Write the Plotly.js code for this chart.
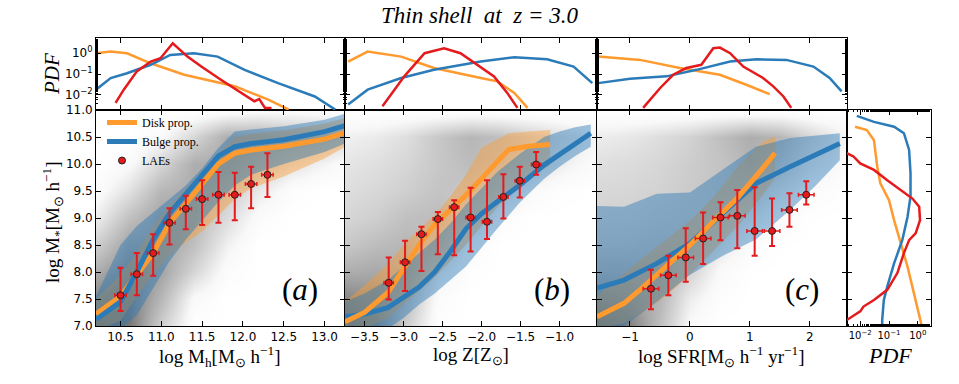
<!DOCTYPE html>
<html>
<head>
<meta charset="utf-8">
<script src="https://cdn.plot.ly/plotly-3.0.1.min.js"></script>
<style>
html, body { margin: 0; padding: 0; background: #fff; }
#chart { width: 959px; height: 384px; }
</style>
</head>
<body>
<div id="chart"></div>
<script>
// ---- panel (a): halo mass ----
const aLineX = [10.2, 10.5, 10.7, 10.9, 11.1, 11.3, 11.5, 11.7, 11.9, 12.1, 12.5, 13.0, 13.25];
const aDisk = [7.22, 7.55, 7.95, 8.35, 8.9, 9.27, 9.64, 10.0, 10.2, 10.26, 10.33, 10.46, 10.58];
const aDiskHi = [7.5, 7.95, 8.35, 8.85, 9.25, 9.55, 9.85, 10.2, 10.5, 10.56, 10.62, 10.75, 10.85];
const aDiskLo = [6.9, 7.1, 7.55, 7.95, 8.3, 8.55, 8.75, 9.05, 9.35, 9.55, 9.77, 10.1, 10.32];
const aBulge = [7.12, 7.45, 8.0, 8.6, 9.09, 9.45, 9.8, 10.15, 10.32, 10.38, 10.45, 10.6, 10.71];
const aBulgeHi = [7.55, 8.5, 8.85, 9.1, 9.35, 9.6, 9.92, 10.3, 10.6, 10.64, 10.7, 10.82, 10.93];
const aBulgeLo = [6.9, 6.95, 7.2, 7.7, 8.2, 8.6, 8.95, 9.3, 9.6, 9.8, 10.0, 10.22, 10.38];
const aLaeX = [10.5, 10.7, 10.9, 11.1, 11.3, 11.5, 11.7, 11.9, 12.1, 12.3];
const aLaeY = [7.57, 7.96, 8.35, 8.91, 9.17, 9.35, 9.43, 9.43, 9.63, 9.80];
const aLaeUp = [0.51, 0.39, 0.35, 0.27, 0.24, 0.35, 0.42, 0.41, 0.32, 0.40];
const aLaeDn = [0.29, 0.39, 0.42, 0.40, 0.38, 0.48, 0.52, 0.47, 0.45, 0.41];
const aLaeXErr = 0.07;

// ---- panel (b): metallicity ----
const bLineX = [-3.75, -3.5, -3.2, -3.0, -2.8, -2.6, -2.4, -2.2, -2.0, -1.8, -1.5, -1.2, -1.0, -0.8, -0.6];
const bBulge = [7.17, 7.22, 7.34, 7.52, 7.72, 8.0, 8.38, 8.8, 9.08, 9.3, 9.62, 9.98, 10.18, 10.38, 10.57];
const bBulgeHi = [7.45, 7.6, 7.85, 8.1, 8.35, 8.6, 8.9, 9.25, 9.55, 9.85, 10.2, 10.5, 10.6, 10.68, 10.73];
const bBulgeLo = [6.9, 6.9, 6.95, 7.15, 7.4, 7.6, 7.85, 8.1, 8.45, 8.8, 9.3, 9.72, 9.95, 10.15, 10.32];
const bDiskX = [-3.75, -3.5, -3.2, -3.0, -2.8, -2.6, -2.4, -2.2, -2.0, -1.8, -1.65, -1.4, -1.12];
const bDisk = [7.08, 7.25, 7.62, 8.05, 8.5, 8.88, 9.15, 9.42, 9.73, 10.05, 10.27, 10.33, 10.36];
const bDiskHi = [7.45, 7.75, 8.15, 8.5, 8.8, 9.05, 9.4, 9.8, 10.3, 10.45, 10.57, 10.6, 10.63];
const bDiskLo = [6.9, 6.95, 7.15, 7.4, 7.65, 7.9, 8.2, 8.5, 8.85, 9.2, 9.45, 9.72, 9.98];
const bLaeX = [-3.19, -2.98, -2.77, -2.56, -2.35, -2.14, -1.93, -1.72, -1.51, -1.30];
const bLaeY = [7.80, 8.18, 8.70, 8.98, 9.20, 9.01, 8.93, 9.39, 9.69, 9.99];
const bLaeUp = [0.47, 0.40, 0.14, 0.13, 0.13, 0.55, 0.77, 0.42, 0.26, 0.23];
const bLaeDn = [0.31, 0.53, 0.68, 0.65, 0.89, 0.63, 0.32, 0.40, 0.31, 0.19];
const bLaeXErr = 0.06;

// ---- panel (c): star formation rate ----
const cLineX = [-1.55, -1.1, -0.55, 0, 0.55, 1.1, 1.67, 2.1, 2.5];
const cBulge = [7.7, 7.85, 8.16, 8.53, 9.09, 9.64, 9.95, 10.18, 10.38];
const cBulgeHi = [9.22, 9.21, 9.45, 9.47, 9.9, 10.32, 10.48, 10.53, 10.57];
const cBulgeLo = [6.9, 7.0, 7.45, 7.95, 8.3, 8.6, 9.15, 9.6, 10.07];
const cDiskX = [-1.55, -1.1, -0.8, -0.4, 0, 0.4, 0.8, 1.2, 1.42];
const cDisk = [7.17, 7.42, 7.7, 8.1, 8.5, 8.95, 9.38, 9.9, 10.2];
const cDiskHi = [7.55, 7.98, 8.25, 8.6, 8.95, 9.4, 9.96, 10.4, 10.51];
const cDiskLo = [6.95, 7.05, 7.25, 7.55, 7.95, 8.4, 8.85, 9.4, 9.74];
const cLaeX = [-0.65, -0.36, -0.07, 0.22, 0.51, 0.79, 1.08, 1.37, 1.66, 1.94];
const cLaeY = [7.69, 7.94, 8.27, 8.62, 9.01, 9.04, 8.76, 8.76, 9.15, 9.43];
const cLaeUp = [0.35, 0.36, 0.54, 0.48, 0.28, 0.48, 0.81, 0.60, 0.31, 0.25];
const cLaeDn = [0.38, 0.37, 0.45, 0.47, 0.42, 0.60, 0.46, 0.28, 0.31, 0.18];
const cLaeXErr = 0.13;

// ---- gray density of all galaxies (rows from 7.0 up to 11.0) ----
const cloudY = [7.0, 7.5, 8.0, 8.5, 9.0, 9.5, 10.0, 10.5, 11.0];
const aCloudX = [10.2, 10.6, 11.0, 11.4, 11.8, 12.2, 12.6, 13.0, 13.3];
const aCloud = [
    [0.82, 0.75, 0.32, 0.02, 0, 0, 0, 0, 0],
    [0.68, 0.72, 0.45, 0.08, 0, 0, 0, 0, 0],
    [0.5, 0.65, 0.55, 0.28, 0.05, 0, 0, 0, 0],
    [0.32, 0.55, 0.55, 0.4, 0.14, 0, 0, 0, 0],
    [0.15, 0.4, 0.55, 0.45, 0.25, 0.06, 0, 0, 0],
    [0.05, 0.22, 0.45, 0.5, 0.35, 0.18, 0.04, 0, 0],
    [0, 0.08, 0.28, 0.5, 0.5, 0.35, 0.22, 0.12, 0.05],
    [0, 0, 0.08, 0.28, 0.5, 0.48, 0.4, 0.33, 0.25],
    [0, 0, 0, 0, 0.03, 0.06, 0.06, 0.06, 0.03]
];
const bCloudX = [-3.75, -3.35, -2.95, -2.55, -2.15, -1.75, -1.35, -0.95, -0.55];
const bCloud = [
    [0.82, 0.68, 0.32, 0.02, 0, 0, 0, 0, 0],
    [0.68, 0.62, 0.4, 0.05, 0, 0, 0, 0, 0],
    [0.5, 0.52, 0.48, 0.16, 0.02, 0, 0, 0, 0],
    [0.35, 0.42, 0.45, 0.35, 0.08, 0, 0, 0, 0],
    [0.28, 0.32, 0.4, 0.42, 0.28, 0.06, 0, 0, 0],
    [0.24, 0.27, 0.32, 0.38, 0.36, 0.25, 0.08, 0.02, 0],
    [0.2, 0.23, 0.28, 0.36, 0.42, 0.36, 0.27, 0.15, 0.06],
    [0.14, 0.17, 0.24, 0.36, 0.45, 0.4, 0.3, 0.22, 0.12],
    [0, 0, 0, 0, 0, 0, 0, 0, 0]
];
const cCloudX = [-1.55, -1.0, -0.5, 0, 0.5, 1.0, 1.5, 2.0, 2.6];
const cCloud = [
    [0.82, 0.7, 0.4, 0.08, 0, 0, 0, 0, 0],
    [0.65, 0.58, 0.45, 0.16, 0.03, 0, 0, 0, 0],
    [0.48, 0.48, 0.45, 0.3, 0.08, 0.01, 0, 0, 0],
    [0.36, 0.37, 0.4, 0.36, 0.2, 0.06, 0.01, 0, 0],
    [0.3, 0.31, 0.34, 0.36, 0.3, 0.18, 0.06, 0.01, 0],
    [0.27, 0.28, 0.3, 0.34, 0.38, 0.34, 0.18, 0.06, 0.01],
    [0.23, 0.25, 0.28, 0.33, 0.38, 0.45, 0.36, 0.18, 0.06],
    [0.16, 0.19, 0.24, 0.3, 0.4, 0.5, 0.45, 0.28, 0.12],
    [0, 0, 0, 0, 0, 0, 0, 0, 0]
];

// ---- PDFs on top (x = property, y = PDF) ----
const aPdfDiskX = [10.2, 10.38, 10.58, 10.87, 11.28, 11.9, 12.31, 12.56];
const aPdfDisk = [1.0, 1.2, 1.0, 0.33, 0.093, 0.026, 0.006, 0.002];
const aPdfBulgeX = [10.2, 10.38, 10.58, 10.87, 11.11, 11.4, 11.69, 12.02, 12.43, 12.88, 13.13];
const aPdfBulge = [0.018, 0.065, 0.11, 0.28, 0.83, 1.0, 0.69, 0.16, 0.037, 0.0085, 0.002];
const aPdfLaeX = [10.44, 10.54, 10.7, 10.87, 10.99, 11.14, 11.32, 11.49, 11.73, 11.98, 12.14, 12.2, 12.27, 12.35];
const aPdfLae = [0.0042, 0.018, 0.135, 0.4, 0.58, 3.0, 0.69, 0.23, 0.054, 0.0126, 0.005, 0.0063, 0.0024, 0.0024];

const bPdfDiskX = [-3.71, -3.46, -3.03, -2.61, -2.01, -1.8, -1.58, -1.41];
const bPdfDisk = [0.4, 1.2, 0.69, 0.195, 0.065, 0.045, 0.0126, 0.0024];
const bPdfBulgeX = [-3.71, -3.46, -3.03, -2.61, -2.01, -1.58, -1.16, -0.82, -0.58];
const bPdfBulge = [0.0035, 0.018, 0.065, 0.16, 0.4, 0.65, 0.51, 0.23, 0.037];
const bPdfLaeX = [-3.27, -2.99, -2.73, -2.48, -2.27, -2.05, -1.84, -1.67, -1.54];
const bPdfLae = [0.0029, 0.078, 1.0, 1.74, 1.0, 0.28, 0.078, 0.0126, 0.0024];

const cPdfDiskX = [-1.53, -0.83, -0.17, 0.5, 0.94, 1.33];
const cPdfDisk = [0.69, 0.48, 0.195, 0.093, 0.031, 0.011];
const cPdfBulgeX = [-1.53, -1.0, -0.39, 0.11, 0.67, 1.11, 1.61, 2.06, 2.33, 2.53];
const cPdfBulge = [0.037, 0.06, 0.078, 0.16, 0.4, 0.51, 0.48, 0.23, 0.065, 0.0148];
const cPdfLaeX = [-0.78, -0.5, -0.28, -0.06, 0.19, 0.39, 0.5, 0.67, 0.89, 1.22, 1.39, 1.56, 1.69];
const cPdfLae = [0.0024, 0.021, 0.093, 0.195, 0.28, 1.74, 1.86, 1.0, 0.23, 0.065, 0.026, 0.0085, 0.0024];

// ---- PDF of stellar mass on the right (y = mass, x = PDF) ----
const mPdfBulgeY = [10.89, 10.78, 10.69, 10.57, 10.26, 9.83, 9.4, 9.02, 8.59, 8.16, 7.73, 7.48, 7.11, 7.02];
const mPdfBulge = [0.0076, 0.03, 0.15, 0.33, 0.5, 0.56, 0.56, 0.44, 0.29, 0.15, 0.087, 0.066, 0.058, 0.058];
const mPdfDiskY = [10.69, 10.63, 10.44, 9.95, 9.64, 9.33, 8.96, 8.53, 8.1, 7.6, 7.11, 7.02];
const mPdfDisk = [0.0066, 0.017, 0.03, 0.039, 0.05, 0.1, 0.15, 0.25, 0.44, 0.74, 1.26, 1.35];
const mPdfLaeY = [10.2, 10.14, 10.01, 9.89, 9.7, 9.52, 9.36, 9.21, 8.96, 8.72, 8.59, 8.35, 7.98, 7.67, 7.48, 7.36, 7.27, 7.11];
const mPdfLae = [0.0034, 0.0058, 0.01, 0.03, 0.087, 0.25, 0.65, 1.12, 1.2, 0.85, 0.5, 0.33, 0.195, 0.087, 0.03, 0.013, 0.01, 0.0034];

const pdfTickVals = [0.01, 0.1, 1];
const pdfTickText = ['10<sup>\u22122</sup>', '10<sup>\u22121</sup>', '10<sup>0</sup>'];

// colours
const orange = '#ff9a2e';
const blue = '#2b7bb9';
const red = '#e41a1c';
const orangeFill = 'rgba(255,154,46,0.42)';
const blueFill = 'rgba(43,123,185,0.45)';
const serif = 'Liberation Serif, Times New Roman, serif';

// pixel helpers for the layout
const W = 959, H = 384;
function fx(px) { return px / W; }
function fy(py) { return 1 - py / H; }

function cloud(x, z, xa, ya) {
    return {
        type: 'heatmap', x: x, y: cloudY, z: z, xaxis: xa, yaxis: ya,
        zmin: 0, zmax: 1, zsmooth: 'best', showscale: false, showlegend: false,
        hoverinfo: 'skip',
        colorscale: [[0, '#ffffff'], [0.1, '#f8f8f8'], [0.3, '#d2d2d2'], [0.5, '#adadad'], [1, '#404040']]
    };
}

function band(x, lo, hi, color, xa, ya) {
    return {
        type: 'scatter', mode: 'lines',
        x: x.concat(x.slice().reverse()),
        y: hi.concat(lo.slice().reverse()),
        fill: 'toself', fillcolor: color, line: { width: 0, color: color },
        xaxis: xa, yaxis: ya, showlegend: false, hoverinfo: 'skip'
    };
}

function curve(x, y, color, width, xa, ya, name) {
    return {
        type: 'scatter', mode: 'lines', x: x, y: y, name: name || '',
        line: { color: color, width: width },
        xaxis: xa, yaxis: ya, showlegend: !!name, hoverinfo: 'skip'
    };
}

function laes(x, y, up, dn, xerr, xa, ya, legend) {
    return {
        type: 'scatter', mode: 'markers', x: x, y: y, name: 'LAEs',
        marker: { color: red, size: 7, line: { color: '#222', width: 1 } },
        error_y: { type: 'data', symmetric: false, array: up, arrayminus: dn, color: red, thickness: 2, width: 3 },
        error_x: { type: 'constant', value: xerr, color: red, thickness: 1.5, width: 2 },
        xaxis: xa, yaxis: ya, showlegend: legend, hoverinfo: 'skip'
    };
}

const traces = [
    // (a)
    cloud(aCloudX, aCloud, 'x', 'y'),
    band(aLineX, aDiskLo, aDiskHi, orangeFill, 'x', 'y'),
    band(aLineX, aBulgeLo, aBulgeHi, blueFill, 'x', 'y'),
    curve(aLineX, aDisk, orange, 5, 'x', 'y', 'Disk prop.'),
    curve(aLineX, aBulge, blue, 5, 'x', 'y', 'Bulge prop.'),
    laes(aLaeX, aLaeY, aLaeUp, aLaeDn, aLaeXErr, 'x', 'y', true),
    // (b)
    cloud(bCloudX, bCloud, 'x2', 'y2'),
    band(bDiskX, bDiskLo, bDiskHi, orangeFill, 'x2', 'y2'),
    band(bLineX, bBulgeLo, bBulgeHi, blueFill, 'x2', 'y2'),
    curve(bLineX, bBulge, blue, 5, 'x2', 'y2'),
    curve(bDiskX, bDisk, orange, 5, 'x2', 'y2'),
    laes(bLaeX, bLaeY, bLaeUp, bLaeDn, bLaeXErr, 'x2', 'y2', false),
    // (c)
    cloud(cCloudX, cCloud, 'x3', 'y3'),
    band(cDiskX, cDiskLo, cDiskHi, orangeFill, 'x3', 'y3'),
    band(cLineX, cBulgeLo, cBulgeHi, blueFill, 'x3', 'y3'),
    curve(cLineX, cBulge, blue, 5, 'x3', 'y3'),
    curve(cDiskX, cDisk, orange, 5, 'x3', 'y3'),
    laes(cLaeX, cLaeY, cLaeUp, cLaeDn, cLaeXErr, 'x3', 'y3', false),
    // top PDFs
    curve(aPdfDiskX, aPdfDisk, orange, 2.5, 'x4', 'y4'),
    curve(aPdfBulgeX, aPdfBulge, blue, 2.5, 'x4', 'y4'),
    curve(aPdfLaeX, aPdfLae, red, 2.5, 'x4', 'y4'),
    curve(bPdfDiskX, bPdfDisk, orange, 2.5, 'x5', 'y5'),
    curve(bPdfBulgeX, bPdfBulge, blue, 2.5, 'x5', 'y5'),
    curve(bPdfLaeX, bPdfLae, red, 2.5, 'x5', 'y5'),
    curve(cPdfDiskX, cPdfDisk, orange, 2.5, 'x6', 'y6'),
    curve(cPdfBulgeX, cPdfBulge, blue, 2.5, 'x6', 'y6'),
    curve(cPdfLaeX, cPdfLae, red, 2.5, 'x6', 'y6'),
    // right PDF
    curve(mPdfDisk, mPdfDiskY, orange, 2.5, 'x7', 'y7'),
    curve(mPdfBulge, mPdfBulgeY, blue, 2.5, 'x7', 'y7'),
    curve(mPdfLae, mPdfLaeY, red, 2.5, 'x7', 'y7')
];

const base = {
    showline: true, linecolor: 'black', linewidth: 1, mirror: 'ticks',
    ticks: 'inside', ticklen: 5, tickwidth: 1, tickcolor: 'black',
    showgrid: false, zeroline: false, fixedrange: true,
    tickfont: { family: 'DejaVu Sans, sans-serif', size: 12, color: 'black' }
};
function axis(o) { return Object.assign({}, base, o); }

const minorLog = { ticks: 'inside', ticklen: 2, tickcolor: 'black', showgrid: false };

const mainY = [fy(326), fy(110)];
const topY = [fy(110), fy(38)];
const dA = [fx(96), fx(345)], dB = [fx(345), fx(597)], dC = [fx(597), fx(847)], dD = [fx(847), fx(931)];

function note(text, x, y, size, extra) {
    return Object.assign({
        text: text, xref: 'paper', yref: 'paper', x: x, y: y,
        xanchor: 'center', yanchor: 'middle', showarrow: false,
        font: { family: serif, size: size, color: 'black' }
    }, extra || {});
}

const layout = {
    width: W, height: H,
    margin: { l: 0, r: 0, t: 0, b: 0 },
    paper_bgcolor: 'white', plot_bgcolor: 'rgba(0,0,0,0)',
    showlegend: true,
    legend: {
        x: fx(102), y: fy(108), xanchor: 'left', yanchor: 'top',
        bgcolor: 'rgba(0,0,0,0)', borderwidth: 0,
        font: { family: serif, size: 12, color: 'black' }
    },
    xaxis: axis({ domain: dA, range: [10.2, 13.25], dtick: 0.5, tick0: 0, tickformat: '.1f', anchor: 'y' }),
    yaxis: axis({ domain: mainY, range: [7, 11], dtick: 0.5, tick0: 0, tickformat: '.1f', anchor: 'x' }),
    xaxis2: axis({ domain: dB, range: [-3.75, -0.52], dtick: 0.5, tick0: 0, tickformat: '.1f', anchor: 'y2' }),
    yaxis2: axis({ domain: mainY, range: [7, 11], dtick: 0.5, tick0: 0, showticklabels: false, anchor: 'x2' }),
    xaxis3: axis({ domain: dC, range: [-1.55, 2.62], dtick: 1, tick0: 0, tickformat: 'd', anchor: 'y3' }),
    yaxis3: axis({ domain: mainY, range: [7, 11], dtick: 0.5, tick0: 0, showticklabels: false, anchor: 'x3' }),
    xaxis4: axis({ domain: dA, range: [10.2, 13.25], dtick: 0.5, tick0: 0, showticklabels: false, anchor: 'y4' }),
    yaxis4: axis({ domain: topY, type: 'log', range: [-2.72, 0.73], tickmode: 'array', tickvals: pdfTickVals, ticktext: pdfTickText, anchor: 'x4', minor: minorLog }),
    xaxis5: axis({ domain: dB, range: [-3.75, -0.52], dtick: 0.5, tick0: 0, showticklabels: false, anchor: 'y5' }),
    yaxis5: axis({ domain: topY, type: 'log', range: [-2.72, 0.73], tickmode: 'array', tickvals: pdfTickVals, showticklabels: false, anchor: 'x5', minor: minorLog }),
    xaxis6: axis({ domain: dC, range: [-1.55, 2.62], dtick: 1, tick0: 0, showticklabels: false, anchor: 'y6' }),
    yaxis6: axis({ domain: topY, type: 'log', range: [-2.72, 0.73], tickmode: 'array', tickvals: pdfTickVals, showticklabels: false, anchor: 'x6', minor: minorLog }),
    xaxis7: axis({ domain: dD, type: 'log', range: [-2.46, 0.46], tickmode: 'array', tickvals: pdfTickVals, ticktext: pdfTickText, anchor: 'y7', minor: minorLog,
                   tickfont: { family: 'DejaVu Sans, sans-serif', size: 10, color: 'black' } }),
    yaxis7: axis({ domain: mainY, range: [7, 11], dtick: 0.5, tick0: 0, showticklabels: false, anchor: 'x7' }),
    annotations: [
        note('<i>Thin shell\u00a0\u00a0at\u00a0\u00a0z\u00a0=\u00a03.0</i>', fx(479), fy(15), 23),
        note('log M<sub>*</sub>[M<sub>\u2299</sub> h<sup>\u22121</sup>]', fx(52), fy(222), 19, { textangle: -90 }),
        note('<i>PDF</i>', fx(52), fy(74), 21, { textangle: -90 }),
        note('log M<sub>h</sub>[M<sub>\u2299</sub> h<sup>\u22121</sup>]', fx(220), fy(356), 19),
        note('log Z[Z<sub>\u2299</sub>]', fx(471), fy(356), 19),
        note('log SFR[M<sub>\u2299</sub> h<sup>\u22121</sup> yr<sup>\u22121</sup>]', fx(721), fy(356), 19),
        note('<i>PDF</i>', fx(890), fy(355), 22),
        note('(<i>a</i>)', 0.82, 0.167, 31, { xref: 'x domain', yref: 'y domain' }),
        note('(<i>b</i>)', 0.82, 0.167, 31, { xref: 'x2 domain', yref: 'y2 domain' }),
        note('(<i>c</i>)', 0.82, 0.167, 31, { xref: 'x3 domain', yref: 'y3 domain' })
    ]
};

Plotly.newPlot('chart', traces, layout, { displayModeBar: false, responsive: false });
</script>
</body>
</html>
